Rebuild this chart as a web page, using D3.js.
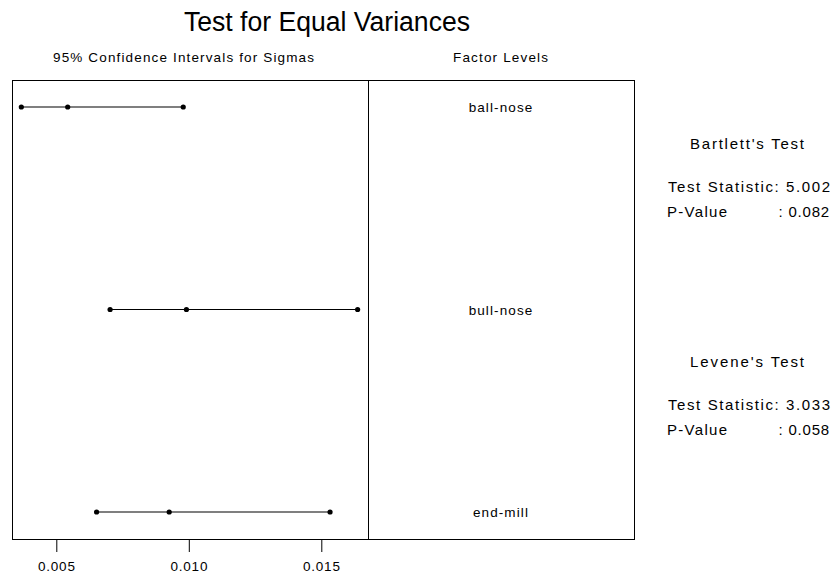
<!DOCTYPE html>
<html><head><meta charset="utf-8">
<script src="https://cdn.jsdelivr.net/npm/d3@7"></script>
<style>body{margin:0;background:#fff}svg{display:block}text{font-family:"Liberation Sans",Arial,sans-serif;fill:#000}</style>
</head><body><svg id="c" width="831" height="575"></svg>
<script>
const levels = ["ball-nose", "bull-nose", "end-mill"];
const lower = [0.00368, 0.00703, 0.00652];
const sigma = [0.00543, 0.00991, 0.00926];
const upper = [0.00979, 0.01637, 0.01533];
const xTicks = [0.005, 0.010, 0.015];
const bartlett = ["Bartlett's Test", "Test Statistic: 5.002", "P-Value", ": 0.082"];
const levene = ["Levene's Test", "Test Statistic: 3.033", "P-Value", ": 0.058"];

const svg = d3.select("#c");
const L = 12, M = 368, R = 634, T = 80, B = 539;
const x = d3.scaleLinear().domain([0.003328, 0.016762]).range([L, M]);
const y = d3.scalePoint().domain(levels).range([T, B]).padding(0.1333);

svg.append("text").attr("x", 184).attr("y", 31)
  .attr("textLength", 286).attr("lengthAdjust", "spacingAndGlyphs")
  .style("font-size", "27px").text("Test for Equal Variances");
svg.append("text").attr("x", 53).attr("y", 62)
  .attr("textLength", 261).attr("lengthAdjust", "spacing")
  .style("font-size", "13.5px").text("95% Confidence Intervals for Sigmas");
svg.append("text").attr("x", 453).attr("y", 62)
  .attr("textLength", 95).attr("lengthAdjust", "spacing")
  .style("font-size", "13.5px").text("Factor Levels");

svg.append("rect").attr("x", L).attr("y", T).attr("width", R - L).attr("height", B - T)
  .attr("fill", "none").attr("stroke", "#000").attr("shape-rendering", "crispEdges");
svg.append("line").attr("x1", M).attr("x2", M).attr("y1", T).attr("y2", B)
  .attr("stroke", "#000").attr("shape-rendering", "crispEdges");

const ax = svg.append("g").attr("transform", `translate(0,${B})`)
  .call(d3.axisBottom(x).tickValues(xTicks).tickFormat(d3.format(".3f")).tickSize(13).tickPadding(9));
ax.select(".domain").remove();
ax.selectAll("text").style("font-size", "13.5px").style("letter-spacing", "0.8px")
  .style("font-family", "'Liberation Sans',Arial,sans-serif").attr("fill", "#000");
ax.selectAll("line").attr("stroke", "#000");

const data = levels.map((l, i) => ({ l, lo: lower[i], s: sigma[i], up: upper[i] }));
const g = svg.append("g");
g.selectAll("line.ci").data(data).join("line").attr("class", "ci")
  .attr("x1", d => x(d.lo)).attr("x2", d => x(d.up))
  .attr("y1", d => y(d.l)).attr("y2", d => y(d.l)).attr("stroke", "#000").attr("stroke-width", 1.2);
data.forEach(d => {
  [d.lo, d.s, d.up].forEach(v => {
    g.append("circle").attr("cx", x(v)).attr("cy", y(d.l)).attr("r", 2.6).attr("fill", "#000");
  });
});
svg.selectAll("text.lvl").data(levels).join("text").attr("class", "lvl")
  .attr("x", (M + R) / 2).attr("y", d => y(d) + 5).attr("text-anchor", "middle")
  .style("font-size", "13.5px").style("letter-spacing", "1.1px").text(d => d);

function block(lines, y0) {
  svg.append("text").attr("x", 690).attr("y", y0)
    .attr("textLength", 114).attr("lengthAdjust", "spacing")
    .style("font-size", "15px").text(lines[0]);
  svg.append("text").attr("x", 668).attr("y", y0 + 43)
    .attr("textLength", 162).attr("lengthAdjust", "spacing")
    .style("font-size", "15px").text(lines[1]);
  svg.append("text").attr("x", 667).attr("y", y0 + 68)
    .attr("textLength", 60).attr("lengthAdjust", "spacing")
    .style("font-size", "15px").text(lines[2]);
  svg.append("text").attr("x", 830).attr("y", y0 + 68).attr("text-anchor", "end")
    .style("font-size", "15px").style("letter-spacing", "0.8px").style("white-space", "pre").text(lines[3]);
}
block(bartlett, 149);
block(levene, 367);
</script></body></html>
